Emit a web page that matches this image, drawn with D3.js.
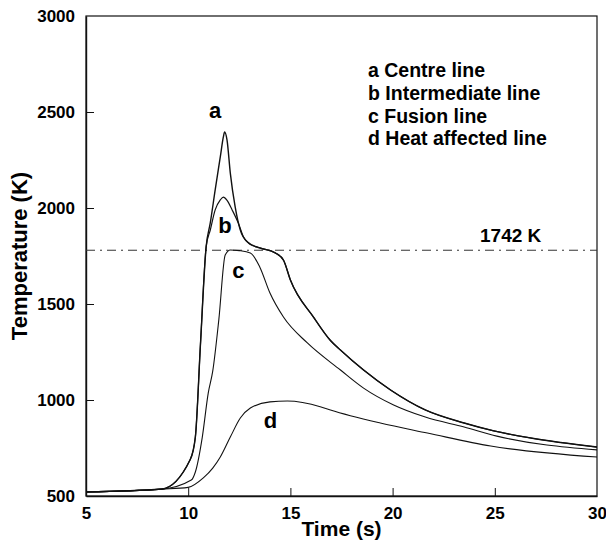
<!DOCTYPE html>
<html>
<head>
<meta charset="utf-8">
<script src="https://cdn.jsdelivr.net/npm/d3@7"></script>
<style>
  body { margin: 0; background: #fff; }
  text { font-family: "Liberation Sans", Arial, sans-serif; font-weight: bold; fill: #000; }
  .curve { fill: none; stroke: #111; stroke-linejoin: round; }
</style>
</head>
<body>
<div id="figure-container"></div>
<script>
// time (s) and temperature (K)
var curveA = [
  [5, 521], [8.7, 536], [10.1, 690], [10.35, 807], [10.6, 1290], [10.88, 1800],
  [11.08, 1922], [11.32, 2094], [11.57, 2266], [11.72, 2370], [11.78, 2396],
  [11.9, 2354], [12.06, 2182], [12.3, 2005], [12.55, 1885], [12.9, 1823],
  [13.5, 1792], [14.26, 1766], [14.66, 1729], [15.0, 1625], [16.13, 1432],
  [16.96, 1310], [17.45, 1260], [18.58, 1156], [19.9, 1052], [21.6, 948],
  [23.5, 880], [24.95, 839], [26.76, 802], [30, 755]
];
var curveB = [
  [5, 521], [8.7, 536], [10.1, 690], [10.35, 807], [10.6, 1290], [10.88, 1800],
  [11.08, 1885], [11.32, 1990], [11.57, 2042], [11.72, 2057], [11.9, 2040],
  [12.15, 1990], [12.45, 1922], [12.7, 1850], [13.0, 1812], [13.5, 1792],
  [14.26, 1766], [14.66, 1729], [15.0, 1625], [16.13, 1432], [16.96, 1310],
  [17.45, 1260], [18.58, 1156], [19.9, 1052], [21.6, 948], [23.5, 880],
  [24.95, 839], [26.76, 802], [30, 755]
];
var curveC = [
  [5, 521], [8.7, 536], [10.15, 583], [10.35, 625], [10.69, 807], [10.98, 1036],
  [11.2, 1150], [11.5, 1420], [11.81, 1755], [12.06, 1781], [12.5, 1778],
  [13.04, 1766], [13.5, 1693], [14.0, 1557], [14.66, 1432], [15.83, 1297],
  [17.45, 1156], [18.58, 1062], [20.05, 974], [21.6, 911], [23.5, 859],
  [25.1, 812], [30, 740]
];
var curveD = [
  [5, 521], [8.7, 536], [10.0, 545], [10.74, 594], [11.2, 645], [11.57, 703],
  [12.06, 807], [12.55, 906], [13.04, 958], [14.0, 990], [14.85, 995],
  [16.5, 964], [16.96, 948], [19.4, 880], [21.7, 828], [24.8, 760], [30, 703]
];

var curveLabels = [
  {name: 'a', x: 11.32, y: 2470},
  {name: 'b', x: 11.8, y: 1870},
  {name: 'c', x: 12.45, y: 1635},
  {name: 'd', x: 14.02, y: 854}
];
var legendItems = ['a Centre line', 'b Intermediate line', 'c Fusion line', 'd Heat affected line'];
var meltLevel = 1780;
var meltLabel = '1742 K';

var xTicks = [5, 10, 15, 20, 25, 30];
var yTicks = [500, 1000, 1500, 2000, 2500, 3000];

var margin = {top: 16, right: 9, bottom: 60, left: 86};
var fullWidth = 606;
var fullHeight = 556;
var width = fullWidth - margin.left - margin.right;
var height = fullHeight - margin.top - margin.bottom;

var xScale = d3.scaleLinear()
  .domain([5, 30])
  .range([0, width]);

var yScale = d3.scaleLinear()
  .domain([500, 3000])
  .range([height, 0]);

var svg = d3.select('#figure-container')
  .append('svg')
  .attr('width', fullWidth)
  .attr('height', fullHeight)
  .append('g')
  .attr('transform', `translate(${margin.left},${margin.top})`);

// frame
svg.append('rect')
  .attr('width', width)
  .attr('height', height)
  .attr('fill', 'none')
  .attr('stroke', '#111')
  .attr('stroke-width', 1.2);

var xAxis = d3.axisBottom(xScale)
  .tickValues(xTicks)
  .tickFormat(d3.format('d'))
  .tickSizeInner(-8)
  .tickSizeOuter(0)
  .tickPadding(11);

var yAxis = d3.axisLeft(yScale)
  .tickValues(yTicks)
  .tickFormat(d3.format('d'))
  .tickSizeInner(-8)
  .tickSizeOuter(0)
  .tickPadding(11);

var gx = svg.append('g')
  .attr('class', 'axis x')
  .attr('transform', `translate(0,${height})`)
  .call(xAxis);

var gy = svg.append('g')
  .attr('class', 'axis y')
  .call(yAxis);

[gx, gy].forEach(function(g) {
  g.select('.domain').attr('stroke', '#111').attr('stroke-width', 1.4);
  g.selectAll('.tick line').attr('stroke', '#111');
  g.selectAll('.tick text')
    .style('font-size', '17px')
    .style('font-family', '"Liberation Sans", Arial, sans-serif')
    .style('font-weight', 'bold')
    .attr('fill', '#000');
});
// no inner tick marks at the frame ends
gx.selectAll('.tick').filter(function(d) { return d == 5 || d == 30; }).select('line').remove();
gy.selectAll('.tick').filter(function(d) { return d == 500 || d == 3000; }).select('line').remove();

// melting level
svg.append('line')
  .attr('x1', 0)
  .attr('x2', width)
  .attr('y1', yScale(meltLevel))
  .attr('y2', yScale(meltLevel))
  .attr('stroke', '#333')
  .attr('stroke-width', 1)
  .attr('stroke-dasharray', '9,5,2,5');

svg.append('text')
  .attr('x', 394)
  .attr('y', yScale(meltLevel) - 8)
  .style('font-size', '19px')
  .text(meltLabel);

var line = d3.line()
  .x(function(d) { return xScale(d[0]); })
  .y(function(d) { return yScale(d[1]); })
  .curve(d3.curveMonotoneX);

var curves = [
  {data: curveD, w: 1.1},
  {data: curveC, w: 1.1},
  {data: curveB, w: 1.2},
  {data: curveA, w: 1.4}
];

svg.append('g')
  .selectAll('path')
  .data(curves)
  .enter()
    .append('path')
    .attr('class', 'curve')
    .attr('stroke-width', function(d) { return d.w; })
    .attr('d', function(d) { return line(d.data); });

svg.append('g')
  .selectAll('text')
  .data(curveLabels)
  .enter()
    .append('text')
    .attr('x', function(d) { return xScale(d.x); })
    .attr('y', function(d) { return yScale(d.y); })
    .attr('text-anchor', 'middle')
    .style('font-size', '22px')
    .text(function(d) { return d.name; });

svg.append('g')
  .attr('transform', 'translate(282,61)')
  .selectAll('text')
  .data(legendItems)
  .enter()
    .append('text')
    .attr('x', 0)
    .attr('y', function(d, i) { return i * 22.8; })
    .style('font-size', '19.5px')
    .text(function(d) { return d; });

// axis titles
svg.append('text')
  .attr('x', width / 2)
  .attr('y', height + 40)
  .attr('text-anchor', 'middle')
  .style('font-size', '21px')
  .text('Time (s)');

svg.append('text')
  .attr('transform', `translate(${-59},${height / 2}) rotate(-90)`)
  .attr('text-anchor', 'middle')
  .style('font-size', '22px')
  .text('Temperature (K)');
</script>
</body>
</html>
